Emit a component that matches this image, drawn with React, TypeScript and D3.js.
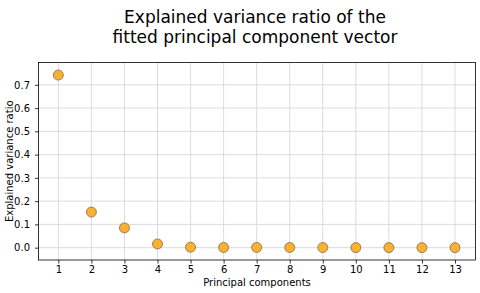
import { useEffect, useRef } from "react";
import * as d3 from "d3";

const components = [1, 2, 3, 4, 5, 6, 7, 8, 9, 10, 11, 12, 13];
const varianceRatio = [
  0.742, 0.153, 0.085, 0.016, 0.002, 0.001, 0.001, 0.0006, 0.0004, 0.0003,
  0.0002, 0.0001, 0.0001,
];
const yTicks = [0.0, 0.1, 0.2, 0.3, 0.4, 0.5, 0.6, 0.7];
const titleLines = ["Explained variance ratio of the", "fitted principal component vector"];

const WIDTH = 480;
const HEIGHT = 293;
const MARGIN = { top: 62.5, right: 4.5, bottom: 33, left: 38.5 };
const FONT = "DejaVu Sans, sans-serif";

export default function App() {
  const svgRef = useRef<SVGSVGElement>(null);

  useEffect(() => {
    if (!svgRef.current) return;
    const svg = d3.select(svgRef.current);
    svg.selectAll("*").remove();

    const w = WIDTH - MARGIN.left - MARGIN.right;
    const h = HEIGHT - MARGIN.top - MARGIN.bottom;

    const x = d3.scaleLinear().domain([0.4, 13.62]).range([0, w]);
    const y = d3.scaleLinear().domain([-0.053, 0.796]).range([h, 0]);

    svg.append("rect").attr("width", WIDTH).attr("height", HEIGHT).attr("fill", "#fff");

    // Title
    svg
      .append("g")
      .selectAll("text")
      .data(titleLines)
      .join("text")
      .attr("x", MARGIN.left + w / 2 - 2)
      .attr("y", (_, i) => 23 + i * 20)
      .attr("text-anchor", "middle")
      .attr("font-family", FONT)
      .attr("font-size", "17px")
      .attr("fill", "#000")
      .text((d) => d);

    const g = svg
      .append("g")
      .attr("transform", `translate(${MARGIN.left},${MARGIN.top})`);

    // Grid
    g.append("g")
      .selectAll("line")
      .data(yTicks)
      .join("line")
      .attr("x1", 0)
      .attr("x2", w)
      .attr("y1", (d) => y(d))
      .attr("y2", (d) => y(d))
      .attr("stroke", "#d3d3d3")
      .attr("stroke-width", 0.8);

    g.append("g")
      .selectAll("line")
      .data(components)
      .join("line")
      .attr("x1", (d) => x(d))
      .attr("x2", (d) => x(d))
      .attr("y1", 0)
      .attr("y2", h)
      .attr("stroke", "#d3d3d3")
      .attr("stroke-width", 0.8);

    // Axes
    const xAxis = g
      .append("g")
      .attr("transform", `translate(0,${h})`)
      .call(d3.axisBottom(x).tickValues(components).tickFormat(d3.format("d")).tickSize(3.5).tickPadding(2));
    const yAxis = g
      .append("g")
      .call(d3.axisLeft(y).tickValues(yTicks).tickFormat(d3.format(".1f")).tickSize(3.5).tickPadding(5));

    [xAxis, yAxis].forEach((a) => {
      a.select(".domain").remove();
      a.selectAll(".tick line").attr("stroke", "#000").attr("stroke-width", 0.8);
      a.selectAll(".tick text")
        .attr("font-family", FONT)
        .attr("font-size", "10px")
        .attr("fill", "#000");
    });

    // Frame
    g.append("rect")
      .attr("width", w)
      .attr("height", h)
      .attr("fill", "none")
      .attr("stroke", "#000")
      .attr("stroke-width", 0.8);

    // Points
    g.append("g")
      .selectAll("circle")
      .data(components.map((c, i) => ({ c, v: varianceRatio[i] })))
      .join("circle")
      .attr("cx", (d) => x(d.c))
      .attr("cy", (d) => y(d.v))
      .attr("r", 5)
      .attr("fill", "#f8b133")
      .attr("stroke", "#8a6a3a")
      .attr("stroke-width", 0.8);

    // Axis labels
    svg
      .append("text")
      .attr("x", MARGIN.left + w / 2)
      .attr("y", 286)
      .attr("text-anchor", "middle")
      .attr("font-family", FONT)
      .attr("font-size", "10px")
      .text("Principal components");

    svg
      .append("text")
      .attr("transform", `translate(13,${MARGIN.top + h / 2}) rotate(-90)`)
      .attr("text-anchor", "middle")
      .attr("font-family", FONT)
      .attr("font-size", "10px")
      .text("Explained variance ratio");
  }, []);

  return (
    <svg
      ref={svgRef}
      width={WIDTH}
      height={HEIGHT}
      style={{ position: "absolute", left: 0, top: 0, display: "block" }}
    />
  );
}
